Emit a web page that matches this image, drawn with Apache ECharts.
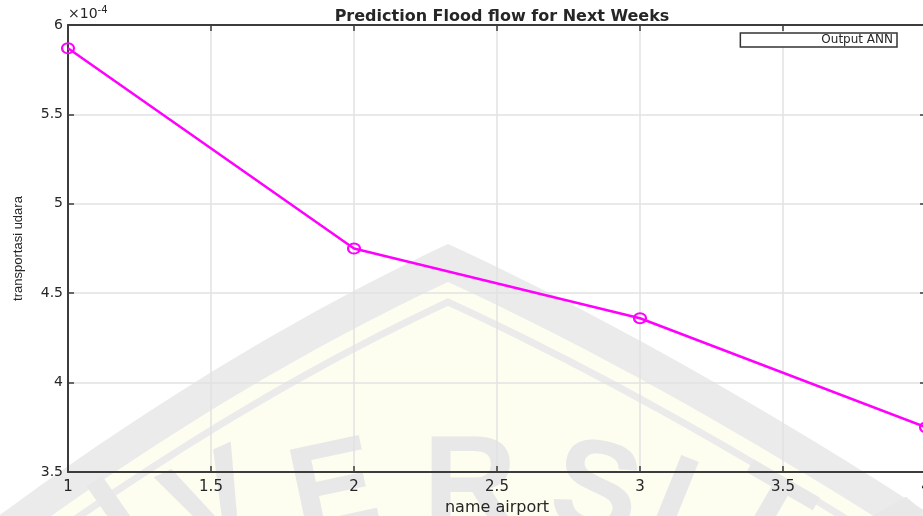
<!DOCTYPE html>
<html>
<head>
<meta charset="utf-8">
<script src="https://cdn.jsdelivr.net/npm/echarts@6/dist/echarts.min.js"></script>
<style>
html,body{margin:0;padding:0;background:#fff;}
#chart{width:923px;height:516px;}
</style>
</head>
<body>
<div id="chart"></div>
<script>
// data, y values in units of 1e-4
var xValues = [1, 2, 3, 4];
var yValues = [5.87, 4.75, 4.36, 3.75];
var seriesName = 'Output ANN';

var myChart = echarts.init(document.getElementById('chart'));

var pts = [];
for (var i = 0; i < xValues.length; i++) {
	pts.push([xValues[i], yValues[i]]);
}

var axisColor = '#3c3c3c';
var txtColor = '#262626';
var gridColor = '#e2e2e2';
var wmGray = '#ebebeb';
var wmYellow = '#fdfdf0';
var fontMain = '"DejaVu Sans"';

// watermark (background decoration only)
var letters = [
	{t: 'I', x: 125, y: 525, r: 35},
	{t: 'V', x: 215, y: 508, r: 25},
	{t: 'E', x: 335, y: 495, r: 12},
	{t: 'R', x: 470, y: 490, r: 0},
	{t: 'S', x: 595, y: 495, r: -12},
	{t: 'I', x: 670, y: 508, r: -22},
	{t: 'T', x: 760, y: 525, r: -30},
	{t: 'A', x: 880, y: 545, r: -40}
];
var wmText = letters.map(function (l) {
	return {
		type: 'text', z: -5, x: l.x, y: l.y, rotation: l.r * Math.PI / 180,
		style: {text: l.t, fill: '#e8e8e8', font: 'bold 130px "Liberation Sans"', align: 'center', verticalAlign: 'middle'}
	};
});
// dome outline: two quadratic curves from the apex
function quad(p0, c, p1, n) {
	var out = [];
	for (var k = 0; k <= n; k++) {
		var t = k / n;
		out.push([(1 - t) * (1 - t) * p0[0] + 2 * t * (1 - t) * c[0] + t * t * p1[0],
			(1 - t) * (1 - t) * p0[1] + 2 * t * (1 - t) * c[1] + t * t * p1[1]]);
	}
	return out;
}
function dome(dy) {
	var left = quad([448, 244 + dy], [200, 360 + dy], [-60, 560 + dy], 30);
	var right = quad([1000, 560 + dy], [700, 360 + dy], [448, 244 + dy], 30);
	return left.concat(right);
}

var option = {
	backgroundColor: '#fff',
	animation: false,
	title: {
		text: 'Prediction Flood flow for Next Weeks',
		left: 497, textAlign: 'center', top: 4,
		textStyle: {fontFamily: fontMain, fontSize: 16, fontWeight: 'bold', color: txtColor}
	},
	legend: {
		right: 26, top: 33,
		data: [{name: seriesName}],
		itemWidth: 71, itemHeight: 8, itemGap: 4,
		backgroundColor: '#fff', borderColor: '#333', borderWidth: 1.5, borderRadius: 0,
		padding: [1, 4, 1, 4],
		itemStyle: {opacity: 0}, lineStyle: {opacity: 0},
		textStyle: {fontFamily: fontMain, fontSize: 12, color: txtColor}
	},
	graphic: [
		{type: 'polygon', z: -10, shape: {points: dome(0)}, style: {fill: wmGray}},
		{type: 'polygon', z: -9, shape: {points: dome(38)}, style: {fill: wmYellow}},
		{type: 'polygon', z: -8, shape: {points: dome(58)}, style: {fill: 'none', stroke: wmGray, lineWidth: 7}},
		{
			type: 'text', left: 68, top: 5, z: 10,
			style: {
				text: '×10{s|-4}',
				font: '14px ' + fontMain, fill: txtColor,
				rich: {s: {fontSize: 10, fontFamily: 'DejaVu Sans', verticalAlign: 'top', padding: [0, 0, 8, 0], fill: txtColor}}
			}
		}
	].concat(wmText),
	grid: {left: 68, right: -3, top: 25, bottom: 44, containLabel: false, outerBoundsMode: 'none'},
	xAxis: [{
		type: 'value', min: 1, max: 4, interval: 0.5,
		name: 'name airport', nameLocation: 'middle', nameGap: 23,
		nameTextStyle: {fontFamily: fontMain, fontSize: 16, color: txtColor},
		axisLine: {show: true, onZero: false, lineStyle: {color: axisColor, width: 2}},
		axisTick: {show: true, inside: true, length: 6, lineStyle: {color: axisColor, width: 1.5}},
		axisLabel: {margin: 8, fontFamily: fontMain, fontSize: 15, color: txtColor},
		splitLine: {show: true, lineStyle: {color: gridColor, width: 1.5}}
	}, {
		type: 'value', position: 'top', min: 1, max: 4, interval: 0.5,
		axisLine: {show: true, lineStyle: {color: axisColor, width: 2}},
		axisTick: {show: true, inside: true, length: 6, lineStyle: {color: axisColor, width: 1.5}},
		axisLabel: {show: false}, splitLine: {show: false}
	}],
	yAxis: [{
		type: 'value', min: 3.5, max: 6, interval: 0.5,
		name: 'transportasi udara', nameLocation: 'middle', nameGap: 43,
		nameTextStyle: {fontFamily: 'Liberation Sans', fontSize: 13, color: txtColor},
		axisLine: {show: true, onZero: false, lineStyle: {color: axisColor, width: 2}},
		axisTick: {show: true, inside: true, length: 6, lineStyle: {color: axisColor, width: 1.5}},
		axisLabel: {margin: 5, fontFamily: fontMain, fontSize: 14, color: txtColor},
		splitLine: {show: true, lineStyle: {color: gridColor, width: 1.5}}
	}, {
		type: 'value', position: 'right', min: 3.5, max: 6, interval: 0.5,
		axisLine: {show: true, lineStyle: {color: axisColor, width: 2}},
		axisTick: {show: true, inside: true, length: 6, lineStyle: {color: axisColor, width: 1.5}},
		axisLabel: {show: false}, splitLine: {show: false}
	}],
	series: [{
		name: seriesName,
		type: 'line',
		data: pts,
		symbol: 'circle',
		symbolSize: [12, 10],
		lineStyle: {color: '#ff00ff', width: 2.5},
		itemStyle: {color: 'rgba(0,0,0,0)', borderColor: '#ff00ff', borderWidth: 2},
		z: 5
	}]
};
myChart.setOption(option);
</script>
</body>
</html>
